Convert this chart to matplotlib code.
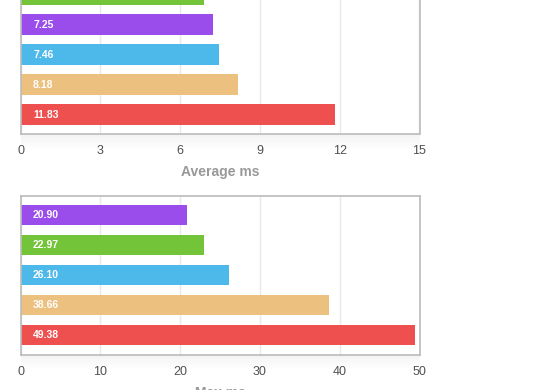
import numpy as np
import matplotlib
matplotlib.use("Agg")
import matplotlib.pyplot as plt

plt.rcParams['font.family'] = ['Liberation Sans', 'DejaVu Sans']

# top chart (average), listed bottom -> top
avg_values = [11.83, 8.18, 7.46, 7.25, 6.90]
avg_colors = ['#ee5050', '#ecc07e', '#4db8ea', '#9b4deb', '#74c43a']
avg_ticks = [0, 3, 6, 9, 12, 15]

# bottom chart (max), listed bottom -> top
max_values = [49.38, 38.66, 26.10, 22.97, 20.90]
max_colors = ['#ee5050', '#ecc07e', '#4db8ea', '#74c43a', '#9b4deb']
max_ticks = [0, 10, 20, 30, 40, 50]

W, H = 560, 390
fig = plt.figure(figsize=(W / 100, H / 100), dpi=100)


def px_axes(x0, y0, x1, y1):
    # pixel box (top-left origin) -> figure coords
    return fig.add_axes([x0 / W, 1 - y1 / H, (x1 - x0) / W, (y1 - y0) / H])


def shadow(x0, y0, x1, h):
    sa = px_axes(x0, y0, x1, y0 + h)
    sa.axis('off')
    g = np.zeros((40, 2, 4))
    g[..., :3] = 0.3
    g[..., 3] = np.linspace(0.07, 0, 40)[:, None]
    sa.imshow(g, aspect='auto', extent=(0, 1, 0, 1), interpolation='bilinear')
    sa.set_zorder(-1)


def draw(ax, values, colors, ticks, label):
    y = np.arange(len(values))
    ax.barh(y, values, height=0.667, color=colors, zorder=2)
    for yi, v in zip(y, values):
        ax.annotate(f'{v:.2f}', (0, yi), xytext=(9, 0), textcoords='offset points',
                    ha='left', va='center', color='white', fontsize=7.5,
                    fontweight='bold', zorder=3)
    ax.set_xlim(ticks[0], ticks[-1])
    ax.set_ylim(-0.65, len(values) - 0.35)
    ax.set_xticks(ticks)
    ax.set_yticks([])
    ax.grid(axis='x', color='#e8e8e8', linewidth=1, zorder=0)
    for s in ax.spines.values():
        s.set_color('#bbbbbb')
        s.set_linewidth(1.2)
    ax.tick_params(axis='x', length=0, pad=8, labelsize=9, labelcolor='#505050')
    ax.set_xlabel(label, fontsize=10, fontweight='bold', color='#999999', labelpad=6)


shadow(20.5, 134, 419.5, 16)
shadow(20.5, 354.5, 419.5, 16)

ax1 = px_axes(20.5, -25, 419.5, 134)
draw(ax1, avg_values, avg_colors, avg_ticks, 'Average ms')

ax2 = px_axes(20.5, 195.5, 419.5, 354.5)
draw(ax2, max_values, max_colors, max_ticks, 'Max ms')

fig.savefig('out.png', dpi=100)
